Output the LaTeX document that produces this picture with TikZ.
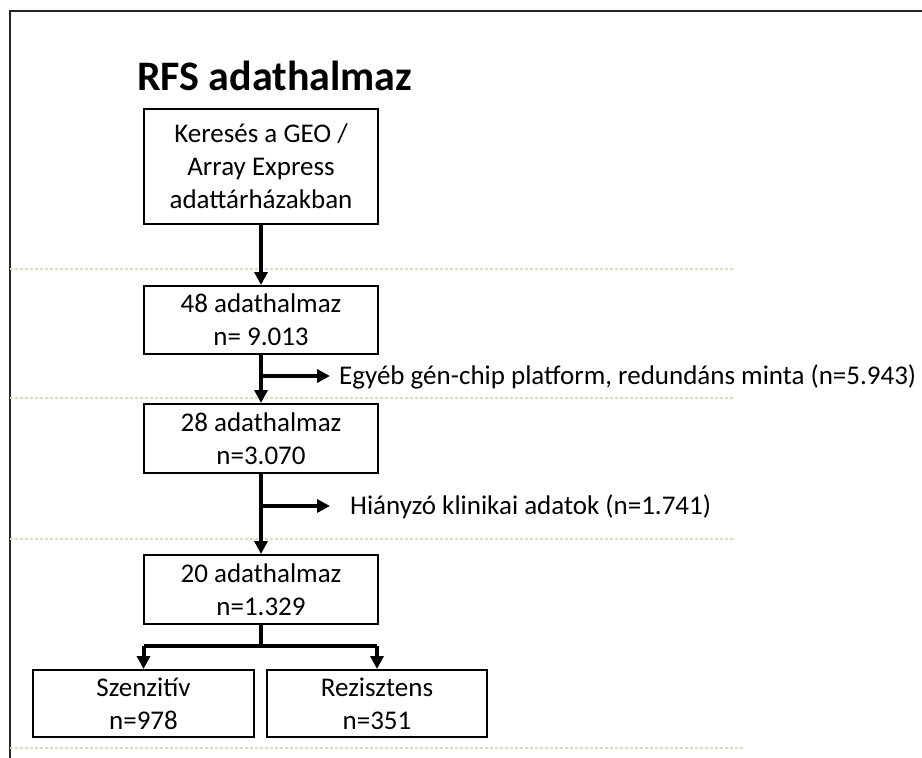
\documentclass[tikz,border=0pt]{standalone}
\usepackage{fontspec}
\setmainfont{Carlito}
\usetikzlibrary{arrows.meta}
\definecolor{guide}{HTML}{D5E2B8}
\definecolor{framec}{HTML}{262626}
\tikzset{
  box/.style={draw=black, line width=2pt, inner sep=0pt, align=center,
    font=\fontsize{27}{33}\selectfont},
  lbl/.style={inner sep=0pt, font=\fontsize{27}{32}\selectfont},
  arr/.style={line width=4pt, -{Triangle[length=13pt,width=13pt]}},
  trunk/.style={line width=4pt},
  guideline/.style={draw=guide, line width=1.5pt, dash pattern=on 3pt off 2pt},
}
\begin{document}
\begin{tikzpicture}[x=1pt,y=-1pt]
\useasboundingbox (0,0) rectangle (922,758);
\fill[white] (0,0) rectangle (922,758);
% slide frame edges
\draw[framec, line width=2pt] (10,758) -- (10,11) -- (922,11);
% guide lines
\draw[guideline] (10,269) -- (733,269);
\draw[guideline] (10,398) -- (733,398);
\draw[guideline] (10,539) -- (733,539);
\draw[guideline] (10,748) -- (743,748);
% title
\node[anchor=base west, inner sep=0pt, font=\fontsize{42}{48}\selectfont\bfseries] (title) at (137,90) {RFS adathalmaz};
% boxes
\node[box, minimum width=234pt, minimum height=115pt] (b1) at (261,166.5) {Keresés a GEO /\\Array Express\\adattárházakban};
\node[box, minimum width=234pt, minimum height=68pt] (b2) at (261,320) {48 adathalmaz\\n= 9.013};
\node[box, minimum width=234pt, minimum height=69pt] (b3) at (261,438.5) {28 adathalmaz\\n=3.070};
\node[box, minimum width=234pt, minimum height=69pt] (b4) at (261,589.5) {20 adathalmaz\\n=1.329};
\node[box, minimum width=221pt, minimum height=67pt] (b5) at (143.5,703.5) {Szenzitív\\n=978};
\node[box, minimum width=220pt, minimum height=67pt] (b6) at (377,703.5) {Rezisztens\\n=351};
% main arrows
\draw[arr] (b1) -- (b2);
\draw[arr] (b2) -- (b3);
\draw[arr] (b3) -- (b4);
% side labels
\node[lbl, anchor=base west] (l1) at (339,384) {Egyéb gén-chip platform, redundáns minta (n=5.943)};
\node[lbl, anchor=base west] (l2) at (350,514) {Hiányzó klinikai adatok (n=1.741)};
\coordinate (j1) at (261,376);
\coordinate (j2) at (261,506);
\draw[arr] (j1) -- ([xshift=-9pt]j1 -| l1.west);
\draw[arr] (j2) -- ([xshift=-20pt]j2 -| l2.west);
% split
\coordinate (s0) at (261,646);
\draw[trunk] (b4.south) -- (s0);
\draw[trunk] (b5.north |- s0) -- (b6.north |- s0);
\draw[arr] (b5.north |- s0) -- (b5.north);
\draw[arr] (b6.north |- s0) -- (b6.north);
\end{tikzpicture}
\end{document}
